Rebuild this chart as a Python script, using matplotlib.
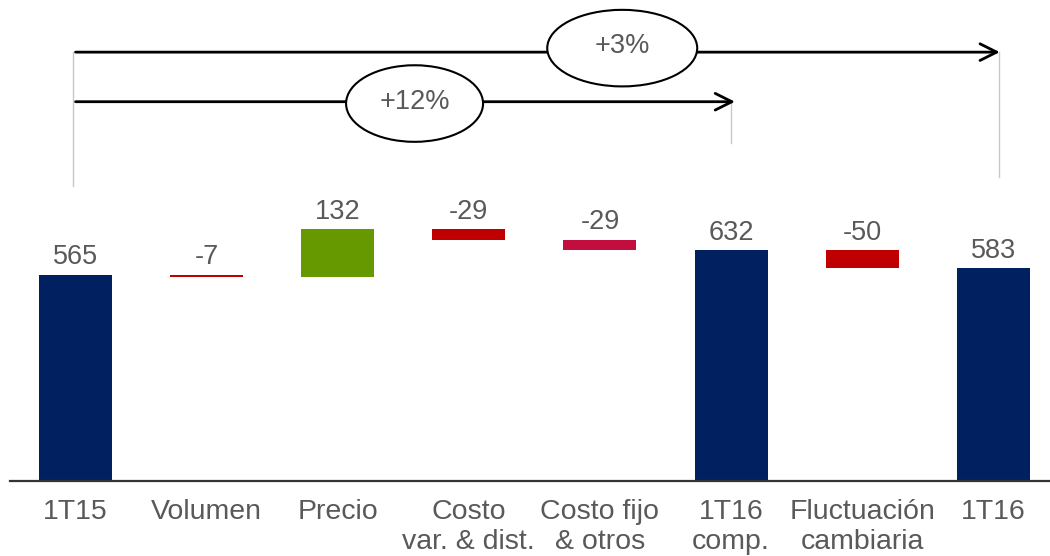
import numpy as np
import matplotlib.pyplot as plt
from matplotlib.patches import Ellipse

plt.rcParams['font.family'] = ['Liberation Sans', 'DejaVu Sans']

categories = ['1T15', 'Volumen', 'Precio', 'Costo\nvar. & dist.', 'Costo fijo\n& otros',
              '1T16\ncomp.', 'Fluctuación\ncambiaria', '1T16']
values = [565, -7, 132, -29, -29, 632, -50, 583]
is_total = [True, False, False, False, False, True, False, True]
colors = ['#002060', '#C00000', '#669900', '#C00000', '#C30D3E', '#002060', '#C00000', '#002060']

growth_labels = ['+3%', '+12%']

# waterfall bottoms / heights
bottoms = []
heights = []
running = 0
for v, tot in zip(values, is_total):
    if tot:
        bottoms.append(0)
        heights.append(v)
        running = v
    else:
        if v < 0:
            bottoms.append(running + v)
        else:
            bottoms.append(running)
        heights.append(abs(v))
        running += v

text_grey = '#595959'

fig = plt.figure(figsize=(10.5, 5.56), dpi=100)
ax = fig.add_axes([10 / 1050, 75.5 / 556, 1040 / 1050, 480.5 / 556])

x = np.arange(len(categories))
ax.bar(x, heights, bottom=bottoms, width=0.557, color=colors, zorder=2)

for xi, b, h, v in zip(x, bottoms, heights, values):
    ax.annotate(str(v), (xi, b + h), xytext=(0, 7.5), textcoords='offset points',
                ha='center', va='baseline', fontsize=19.5, color=text_grey)

ax.set_xlim(-0.5, 7.433)
ax.set_ylim(0, 1318)

for s in ax.spines.values():
    s.set_visible(False)
ax.axhline(0, color='#333333', lw=1.6, clip_on=False, zorder=3)

ax.set_yticks([])
ax.set_xticks(x)
ax.set_xticklabels(categories, fontsize=20.5, color=text_grey, linespacing=1.2)
ax.tick_params(axis='x', length=0, pad=13)

# growth arrows with ellipse labels
arrows = [(0.0, 7.05, 1175, 4.17, 1186), (0.0, 5.03, 1039, 2.586, 1034)]
for (x0, x1, y, ex, ey), lab in zip(arrows, growth_labels):
    ax.annotate('', xy=(x1, y), xytext=(x0, y),
                arrowprops=dict(arrowstyle='->,head_length=1.2,head_width=0.6',
                                color='black', lw=2, shrinkA=0, shrinkB=0),
                annotation_clip=False, zorder=4)
    w = 1.144 if lab == '+3%' else 1.045
    ax.add_patch(Ellipse((ex, ey), w, 210, facecolor='white', edgecolor='black',
                         lw=1.5, zorder=5, clip_on=False))
    ax.text(ex, ey + 5, lab, ha='center', va='center', fontsize=19.5,
            color=text_grey, zorder=6)

# thin guide lines down from the arrows
ax.plot([-0.02, -0.02], [1175, 808], color='#C8C8C8', lw=1, zorder=1)
ax.plot([5.0, 5.0], [1039, 926], color='#C8C8C8', lw=1, zorder=1)
ax.plot([7.045, 7.045], [1175, 832], color='#C8C8C8', lw=1, zorder=1)

fig.savefig('out.png', dpi=100)
